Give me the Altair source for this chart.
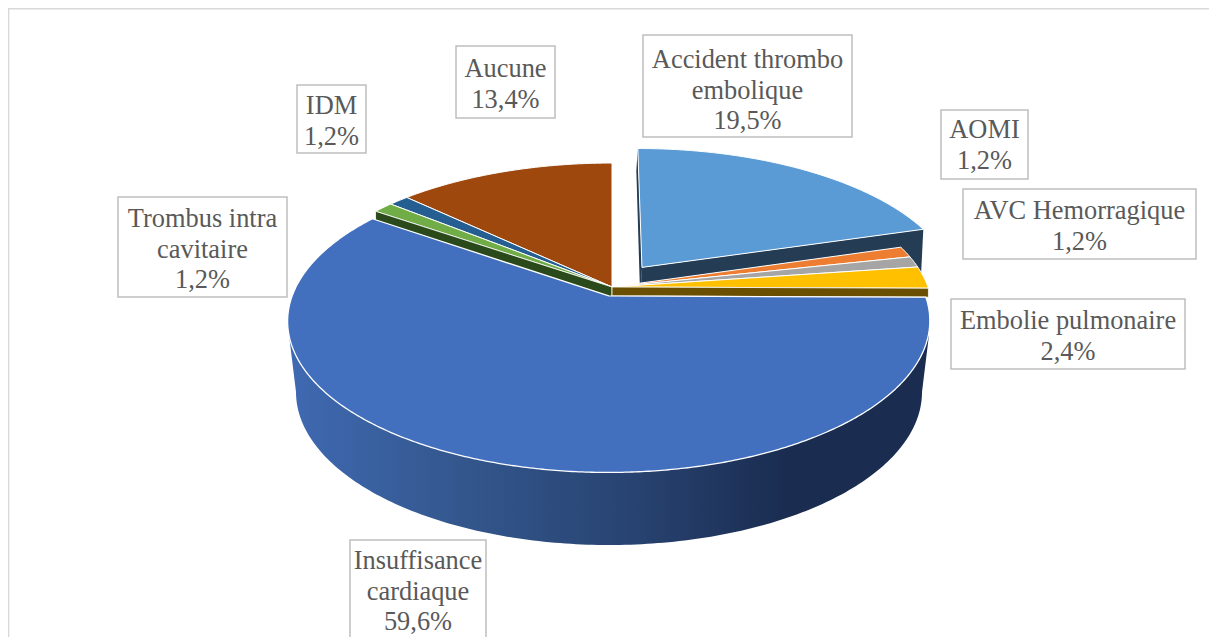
import math
import numpy as np
import pandas as pd
import altair as alt

# --- values ---
names = ["Accident thrombo embolique", "AOMI", "AVC Hemorragique", "Embolie pulmonaire",
         "Insuffisance cardiaque", "Trombus intra cavitaire", "IDM", "Aucune"]
values = [19.5, 1.2, 1.2, 2.4, 59.6, 1.2, 1.2, 13.4]
colors = ["#5B9BD5", "#ED7D31", "#A5A5A5", "#FFC000", "#4270BF", "#70AD47", "#255E91", "#9E480E"]
explode_u = [0.097, 0, 0, 0, -0.01, 0, 0, 0]
explode_v = [0.139, 0, 0, 0, -0.0614, 0, 0, 0]
width_scale = [1, 1, 1, 1, 0.992, 1, 1, 1]

label_lines = [["Accident thrombo", "embolique", "19,5%"], ["AOMI", "1,2%"], ["AVC Hemorragique", "1,2%"],
               ["Embolie pulmonaire", "2,4%"], ["Insuffisance", "cardiaque", "59,6%"],
               ["Trombus intra", "cavitaire", "1,2%"], ["IDM", "1,2%"], ["Aucune", "13,4%"]]
box_x0 = [643, 941, 963, 951, 350, 118, 297, 456]
box_x1 = [852, 1028, 1196, 1185, 486, 287, 366, 555]
box_y0 = [35, 110, 189, 299, 540, 197, 85, 46]
box_y1 = [137, 179, 259, 369, 645, 297, 153, 118]
first_line_y = [60, 130, 211, 321, 561, 219, 106, 69]
line_step = 30.7

# --- perspective of the pie ---
CX, CY, RX, RY, K = 612, 287, 316, 144.3, 0.164
ROT = 3.0


def project(u, v):
    w = 1 + K * v
    return CX + RX * u / w, CY - RY * v / w


cum = np.cumsum([0] + values) * 3.6 + ROT
cum[0] = 0
cum[-1] = 360


def outer(i, angle):
    r = math.radians(angle)
    return project(math.sin(r) * width_scale[i] + explode_u[i], math.cos(r) + explode_v[i])


def wedge(i):
    pts = [project(explode_u[i], explode_v[i])]
    for t in np.linspace(cum[i], cum[i + 1], max(3, int(cum[i + 1] - cum[i]) * 2)):
        pts.append(outer(i, t))
    pts.append(pts[0])
    return pts


def edge_wall(i, angle, drop_in, drop_out, shift=0):
    a = project(explode_u[i], explode_v[i])
    b = outer(i, angle)
    return [a, b, (b[0] + shift, b[1] + drop_out), (a[0] + shift, a[1] + drop_in), a]


X = alt.X("x:Q", axis=None, scale=alt.Scale(domain=[8, 1209], range=[0, 1201]))
Y = alt.Y("y:Q", axis=None, scale=alt.Scale(domain=[637, 8], range=[629, 0]))


def poly(pts, fill, stroke="white", sw=1.0):
    df = pd.DataFrame({"x": [p[0] for p in pts], "y": [p[1] for p in pts], "i": range(len(pts))})
    kw = dict(fill=fill, strokeWidth=sw, strokeJoin="round")
    kw["stroke"] = stroke if stroke else "transparent"
    return alt.Chart(df).mark_line(**kw).encode(x=X, y=Y, order="i:Q")


# side of the big slice
LCX, LCY, LRX, LRY = 609, 392, 313, 153
rim = [(289, 335)]
for t in np.linspace(180, 360, 181):
    r = math.radians(t)
    rim.append((LCX + LRX * math.cos(r), LCY - LRY * math.sin(r)))
rim.append((929, 335))
rim.append((289, 335))
rim_fill = alt.Gradient(gradient="linear", x1=0, x2=1, y1=0, y2=0, stops=[
    alt.GradientStop(color="#3F69B2", offset=0),
    alt.GradientStop(color="#34588F", offset=0.25),
    alt.GradientStop(color="#27426F", offset=0.55),
    alt.GradientStop(color="#1A2C50", offset=0.78),
    alt.GradientStop(color="#1A2C50", offset=1),
])

layers = [
    # frame
    alt.Chart(pd.DataFrame({"x": [8.6, 8.6, 1209], "y": [637, 8.8, 8.8], "i": [0, 1, 2]}))
    .mark_line(color="#D9D9D9", strokeWidth=1.5).encode(x=X, y=Y, order="i:Q"),
    poly(rim, rim_fill, stroke=None),
    poly(wedge(7), colors[7]),
    poly(wedge(6), colors[6]),
    poly(wedge(5), colors[5]),
    poly(edge_wall(5, cum[5], 30, 30), "#2B4A1B", sw=0.8),
    poly(edge_wall(0, cum[0], 40, 22, -1.5), "#243D55", stroke=None),
    poly(edge_wall(0, cum[1], 60, 60, -3), "#243D55", stroke=None),
    poly(wedge(0), colors[0]),
    poly(wedge(1), colors[1]),
    poly(wedge(2), colors[2]),
    poly(wedge(3), colors[3]),
    poly(edge_wall(3, cum[4], 9, 9), "#6B4F00", sw=0.8),
    poly(wedge(4), colors[4], sw=1.3),
]

boxes = pd.DataFrame({"x": box_x0, "x2": box_x1, "y": box_y0, "y2": box_y1})
layers.append(alt.Chart(boxes).mark_rect(fill="white", stroke="#BFBFBF", strokeWidth=1.5)
              .encode(x=X, x2="x2:Q", y=Y, y2="y2:Q"))

rows = []
for i, lines in enumerate(label_lines):
    for j, s in enumerate(lines):
        rows.append({"x": (box_x0[i] + box_x1[i]) / 2, "y": first_line_y[i] + j * line_step, "t": s})
layers.append(alt.Chart(pd.DataFrame(rows))
              .mark_text(font="Liberation Serif", fontSize=26.4, color="#595959", baseline="middle", align="center")
              .encode(x=X, y=Y, text="t:N"))

chart = alt.layer(*layers).properties(
    width=1201, height=629, padding=0, autosize=alt.AutoSizeParams(type="none"), background="white"
).configure_view(stroke=None)

chart.save("out.html", embed_options={"renderer": "svg", "actions": False})
